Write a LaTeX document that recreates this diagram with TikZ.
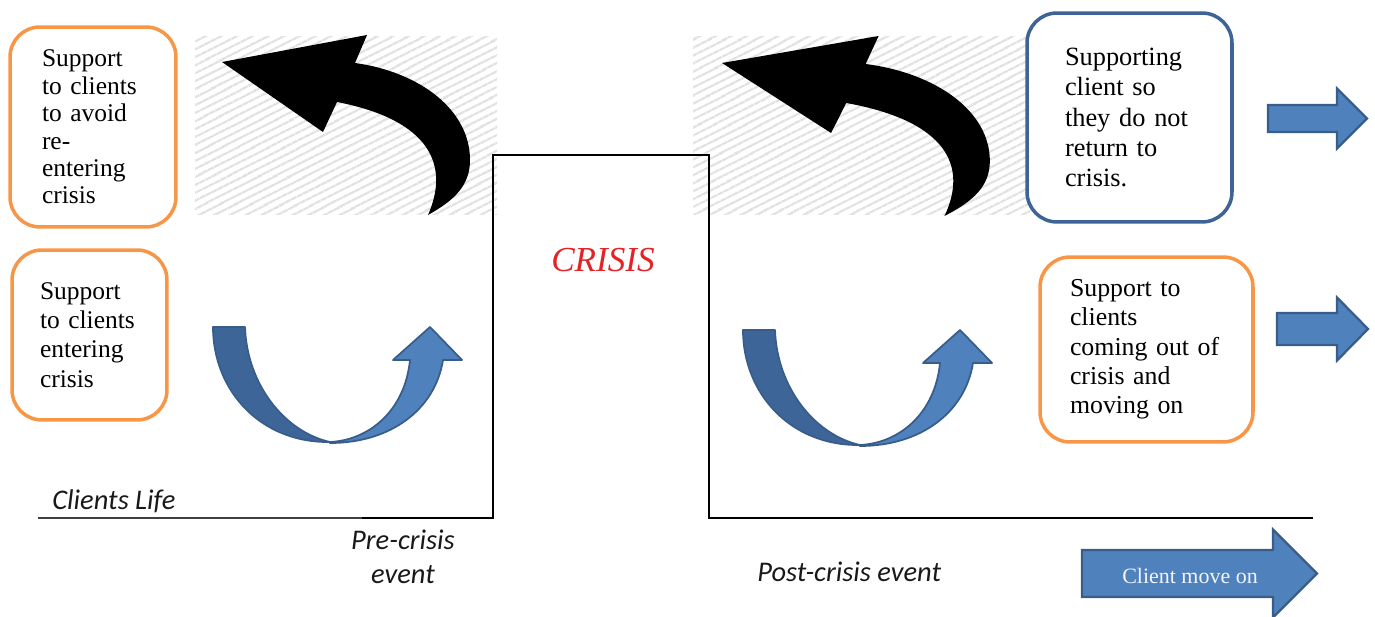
\documentclass[tikz,border=0pt]{standalone}
\usepackage{fontspec}
\setmainfont{Liberation Serif}
\newfontfamily\calibrifont{Carlito}
\usepackage{tikz}
\usetikzlibrary{patterns.meta}
\definecolor{boxorange}{RGB}{247,150,70}
\definecolor{boxblue}{RGB}{62,99,150}
\definecolor{arrowblue}{RGB}{79,129,189}
\definecolor{arrowdark}{RGB}{61,101,152}
\definecolor{arrowedge}{RGB}{56,93,138}
\definecolor{crisisred}{RGB}{228,35,38}
\definecolor{hatchgray}{RGB}{226,226,226}
\tikzset{
    hatch/.style={pattern={Lines[angle=27,distance=4pt,line width=1.6pt]}, pattern color=hatchgray},
    lifeline/.style={line width=1.4pt, black},
    lifethin/.style={line width=0.8pt, black!75},
    uturn/.style={draw=arrowedge, line width=1pt, line join=round},
    blockarrow/.style={draw=arrowedge, fill=arrowblue, line width=1.3pt},
    supportbox/.style={rounded corners=0.6cm, line width=2pt, fill=white, align=left, inner ysep=0pt},
    orangebox/.style={supportbox, draw=boxorange},
    bluebox/.style={supportbox, draw=boxblue},
    lifetext/.style={font=\calibrifont\itshape\fontsize{16.2}{19.3}\selectfont, inner sep=0pt, text=black!90},
    crisislabel/.style={font=\itshape\fontsize{20}{24}\selectfont, text=crisisred, inner sep=0pt, anchor=base},
    movelabel/.style={font=\fontsize{12.5}{15}\selectfont, text=white!92!arrowblue, inner sep=0pt, anchor=base}
}

\begin{document}
\begin{tikzpicture}[x=0.02cm, y=-0.02cm]
    \useasboundingbox (0,0) rectangle (1375,617);

    % Hatched panels behind the black arrows
    \foreach \xa/\xb in {195/497, 693/1030} {
        \fill[hatch] (\xa,37) rectangle (\xb,215);
    }

    % Client's life line with the crisis step
    \draw[lifethin] (38,518) -- (362,518);
    \draw[lifeline] (362,518) -- (493,518) -- (493,155) -- (709,155) -- (709,518) -- (1313,518);

    % Black arrows turning back
    \foreach \tx/\ty/\sx in {222/62/1, 722/63/1.08} {
        \begin{scope}[shift={(\tx,\ty)}, xscale=\sx]
            \fill[black] (0,0) -- (145,-27) -- (133,1)
                .. controls (198,10) and (248,48) .. (248,98)
                .. controls (248,123) and (233,138) .. (206,153)
                .. controls (228,103) and (208,58) .. (115,40)
                -- (101,70) -- cycle;
        \end{scope}
    }

    % Blue U-turn arrows
    \foreach \dx/\dy in {0/0, 530/3} {
        \begin{scope}[shift={(\dx,\dy)}]
            \filldraw[uturn, fill=arrowdark] (213,327) -- (245,327)
                .. controls (247,385) and (285,432) .. (330,442)
                .. controls (260,443) and (213,390) .. (213,327) -- cycle;
            \filldraw[uturn, fill=arrowblue] (330,443)
                .. controls (390,443) and (435,410) .. (443,360)
                -- (462,360) -- (430,327) -- (393,360) -- (410,360)
                .. controls (405,410) and (370,440) .. (330,442) -- cycle;
        \end{scope}
    }

    % Block arrows on the right
    \foreach \xa/\xb/\xt/\yc/\hs/\hh in {1268/1337/1367/118.5/13.5/30, 1277/1337/1368/329/16/31.5, 1082/1273/1317/573.5/23.5/44} {
        \draw[blockarrow] (\xa,\yc-\hs) -- (\xb,\yc-\hs) -- (\xb,\yc-\hh) -- (\xt,\yc)
            -- (\xb,\yc+\hh) -- (\xb,\yc+\hs) -- (\xa,\yc+\hs) -- cycle;
    }

    % Support boxes
    \node[orangebox, minimum width=3.32cm, minimum height=4cm, text width=2.04cm, inner xsep=0.64cm,
          font=\fontsize{14.5}{15.6}\selectfont] (avoid) at (93,127)
          {Support\\to clients\\to avoid\\re-\\entering\\crisis};
    \node[orangebox, minimum width=3.1cm, minimum height=3.4cm, text width=1.98cm, inner xsep=0.56cm,
          font=\fontsize{14.5}{16.7}\selectfont] (entering) at (89.5,335)
          {Support\\to clients\\entering\\crisis};
    \node[bluebox, minimum width=4.1cm, minimum height=4.18cm, text width=2.58cm, inner xsep=0.76cm,
          font=\fontsize{15}{17.3}\selectfont] (noreturn) at (1129.5,117.5)
          {Supporting\\client so\\they do not\\return to\\crisis.};
    \node[orangebox, minimum width=4.26cm, minimum height=3.7cm, text width=3.06cm, inner xsep=0.6cm,
          font=\fontsize{14.7}{16.7}\selectfont] (comingout) at (1146.5,349.5)
          {Support to\\clients\\coming out of\\crisis and\\moving on};

    % Labels
    \node[crisislabel] (crisis) at (603,272) {CRISIS};
    \node[lifetext, anchor=base west] (life) at (52,510) {Clients Life};
    \node[lifetext, anchor=north, align=center] (pre) at (403,530) {Pre-crisis\\event};
    \node[lifetext, anchor=base west] (post) at (757,582) {Post-crisis event};
    \node[movelabel] (moveon) at (1190,583) {Client move on};
\end{tikzpicture}
\end{document}
